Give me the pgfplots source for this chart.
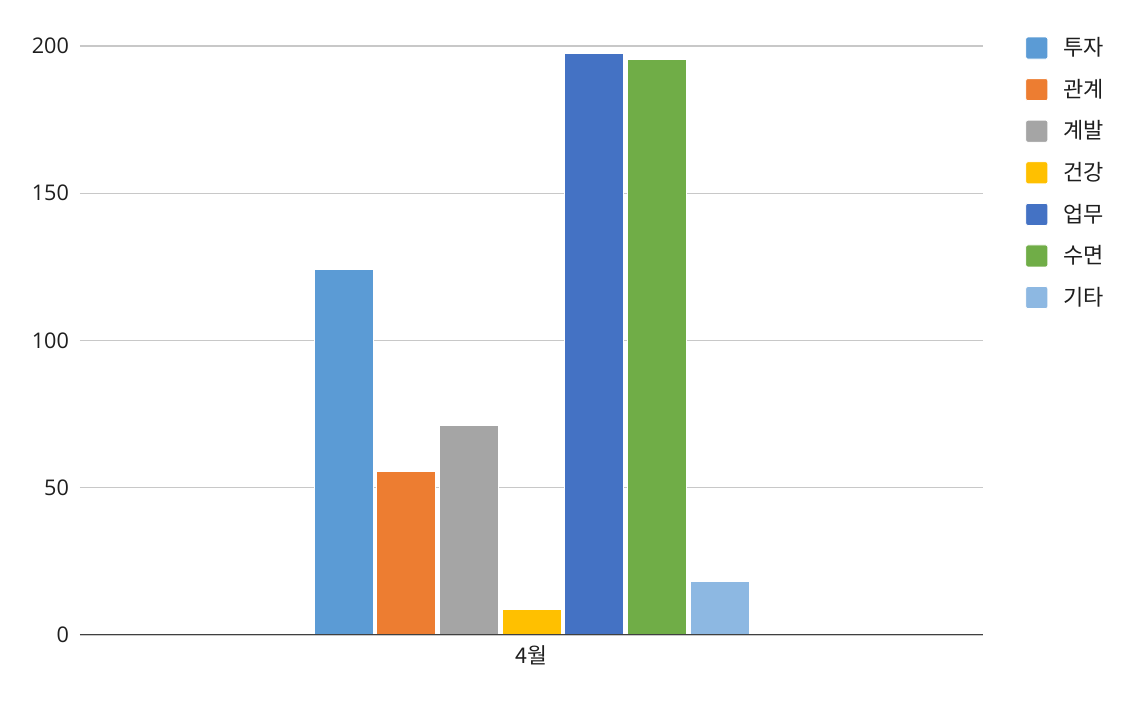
\documentclass[border=0pt]{standalone}
\usepackage{fontspec}
\usepackage{pgfplots}
\pgfplotsset{compat=1.18}
\setmainfont{Open Sans}
\newfontfamily\kr{Noto Sans CJK KR}

\definecolor{c1}{HTML}{5B9BD5}
\definecolor{c2}{HTML}{ED7D31}
\definecolor{c3}{HTML}{A5A5A5}
\definecolor{c4}{HTML}{FFC000}
\definecolor{c5}{HTML}{4472C4}
\definecolor{c6}{HTML}{70AD47}
\definecolor{c7}{HTML}{8DB8E2}
\definecolor{gridc}{HTML}{C8C8C8}
\definecolor{axisc}{HTML}{404040}
\definecolor{textc}{HTML}{1E1E1E}

\begin{document}
\begin{tikzpicture}
\begin{axis}[
  scale only axis,
  width=451.5pt, height=294.5pt,
  ybar=1.85pt, bar width=29.5pt,
  xmin=-1, xmax=1,
  ymin=0, ymax=200,
  xtick={0}, xticklabels={{\kr 4월}},
  ytick={0,50,100,150,200},
  ymajorgrids, grid style={gridc, line width=0.6pt},
  axis x line*=bottom,
  axis y line*=left,
  axis line style={draw=none},
  major tick length=0pt,
  tick style={draw=none},
  font=\fontsize{10.8pt}{13pt}\selectfont,
  ticklabel style={text=textc},
  /pgf/number format/assume math mode=true,
  xticklabel style={yshift=-2pt},
  yticklabel style={xshift=-2pt},
  legend cell align=left,
  legend style={draw=none, fill=none, at={(1.0465,1.022)}, anchor=north west,
    font=\kr\fontsize{11pt}{13pt}\selectfont, text=textc,
    row sep=6.2pt, inner sep=0pt,
    /tikz/every odd column/.append style={column sep=5.5pt}},
  legend image code/.code={\fill[#1, rounded corners=1pt] (0pt,-5.5pt) rectangle (11pt,5.5pt);},
]
\addplot[fill=c1, draw=white] coordinates {(0,124)};
\addplot[fill=c2, draw=white] coordinates {(0,55.7)};
\addplot[fill=c3, draw=white] coordinates {(0,71)};
\addplot[fill=c4, draw=white] coordinates {(0,8.6)};
\addplot[fill=c5, draw=white] coordinates {(0,197.6)};
\addplot[fill=c6, draw=white] coordinates {(0,195.6)};
\addplot[fill=c7, draw=white] coordinates {(0,18.1)};
\legend{투자,관계,계발,건강,업무,수면,기타}
\draw[axisc, line width=0.8pt] (rel axis cs:0,0) -- (rel axis cs:1,0);
\coordinate (sw) at (rel axis cs:0,0);
\coordinate (ne) at (rel axis cs:1,1);
\end{axis}
\pgfresetboundingbox
\path ([shift={(-40pt,-35pt)}]sw) rectangle ([shift={(78.5pt,23pt)}]ne);
\end{tikzpicture}
\end{document}
